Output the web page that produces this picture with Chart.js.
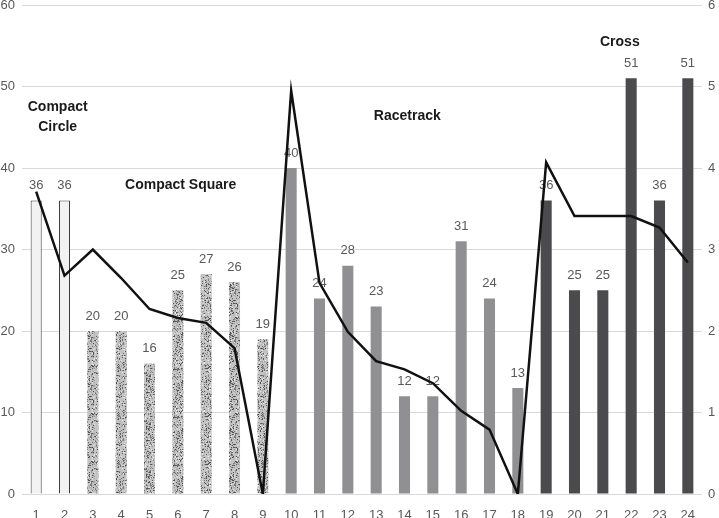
<!DOCTYPE html>
<html>
<head>
<meta charset="utf-8">
<script src="https://cdn.jsdelivr.net/npm/chart.js@4"></script>
<style>
  html, body { margin: 0; padding: 0; background: #fff; }
  #wrap { width: 719px; height: 518px; }
</style>
</head>
<body>
<div id="wrap"><canvas id="chart" width="719" height="518"></canvas></div>
<script>
// categories and values
const categories = ['1','2','3','4','5','6','7','8','9','10','11','12','13','14','15','16','17','18','19','20','21','22','23','24'];
const barValues = [36, 36, 20, 20, 16, 25, 27, 26, 19, 40, 24, 28, 23, 12, 12, 31, 24, 13, 36, 25, 25, 51, 36, 51];
const lineValues = [3.71, 2.68, 3.0, 2.65, 2.27, 2.16, 2.1, 1.79, 0, 4.95, 2.59, 1.99, 1.63, 1.53, 1.36, 1.02, 0.79, 0, 4.07, 3.41, 3.41, 3.41, 3.27, 2.84];
// group of each bar: circle, square, racetrack, cross
const barGroup = ['c','c','s','s','s','s','s','s','s','r','r','r','r','r','r','r','r','r','x','x','x','x','x','x'];
const leftTicks = [0, 10, 20, 30, 40, 50, 60];
const rightTicks = [0, 1, 2, 3, 4, 5, 6];
// group titles: text lines, category position, left-axis value
const groupTitles = [
  { lines: ['Compact', 'Circle'], at: 0.76, value: 47.5 },
  { lines: ['Compact Square'], at: 5.1, value: 37.9 },
  { lines: ['Racetrack'], at: 13.1, value: 46.4 },
  { lines: ['Cross'], at: 20.6, value: 55.4 }
];

// speckled fill for the compact square bars
function speckle() {
  const c = document.createElement('canvas');
  c.width = 48; c.height = 48;
  const g = c.getContext('2d');
  g.fillStyle = '#c2c2c2';
  g.fillRect(0, 0, 48, 48);
  let s = 12345;
  const next = () => { s = (s * 1103515245 + 12345) % 2147483648; return s / 2147483648; };
  for (let i = 0; i < 1400; i++) {
    const x = Math.floor(next() * 48), y = Math.floor(next() * 48);
    const v = Math.floor(70 + next() * 170);
    g.fillStyle = `rgb(${v},${v},${v})`;
    g.fillRect(x, y, 1, 1);
  }
  return g.createPattern(c, 'repeat');
}
const pattern = speckle();
const fillFor = { c: '#f2f2f2', s: pattern, r: '#909092', x: '#4b4b4d' };

const font = 'Liberation Sans, Arial, sans-serif';

const labelPlugin = {
  id: 'barLabels',
  beforeDatasetsDraw(chart) {
    const ctx = chart.ctx;
    const meta = chart.getDatasetMeta(1);
    ctx.save();
    ctx.font = `13px ${font}`;
    ctx.fillStyle = '#595959';
    ctx.textAlign = 'center';
    ctx.textBaseline = 'middle';
    meta.data.forEach((bar, i) => {
      ctx.fillText(String(barValues[i]), bar.x, bar.y - 15);
    });
    ctx.restore();
  },
  afterDatasetsDraw(chart) {
    const ctx = chart.ctx;
    const xs = chart.scales.x, ys = chart.scales.y;
    ctx.save();
    ctx.font = `bold 14px ${font}`;
    ctx.fillStyle = '#1a1a1a';
    ctx.textAlign = 'center';
    ctx.textBaseline = 'middle';
    groupTitles.forEach(t => {
      const px = xs.getPixelForValue(t.at);
      const py = ys.getPixelForValue(t.value);
      t.lines.forEach((line, k) => ctx.fillText(line, px, py + k * 20));
    });
    ctx.restore();
  }
};

new Chart(document.getElementById('chart'), {
  data: {
    labels: categories,
    datasets: [
      {
        type: 'line',
        data: lineValues,
        yAxisID: 'y1',
        borderColor: '#111111',
        borderWidth: 2.5,
        pointRadius: 0,
        tension: 0,
        order: 0
      },
      {
        type: 'bar',
        data: barValues,
        yAxisID: 'y',
        backgroundColor: barGroup.map(g => fillFor[g]),
        borderColor: barGroup.map(g => g === 'c' ? '#3a3a3a' : 'transparent'),
        borderWidth: barGroup.map(g => g === 'c' ? 1 : 0),
        categoryPercentage: 1,
        barPercentage: 0.39,
        order: 1
      }
    ]
  },
  options: {
    responsive: false,
    animation: false,
    layout: { padding: { top: 5, bottom: 0, left: 0, right: 0 } },
    plugins: { legend: { display: false }, tooltip: { enabled: false } },
    scales: {
      x: {
        offset: true,
        grid: { display: false },
        border: { display: false },
        ticks: { color: '#595959', font: { family: font, size: 13 }, padding: 6, maxRotation: 0, autoSkip: false },
        afterFit: s => { s.height = 24; }
      },
      y: {
        position: 'left',
        min: 0, max: 60,
        afterBuildTicks: s => { s.ticks = leftTicks.map(v => ({ value: v })); },
        grid: { color: '#d9d9d9', lineWidth: 1, drawTicks: false },
        border: { display: false },
        ticks: { color: '#595959', font: { family: font, size: 13 }, padding: 7 },
        afterFit: s => { s.width = 22; s.paddingTop = 0; }
      },
      y1: {
        position: 'right',
        min: 0, max: 6,
        afterBuildTicks: s => { s.ticks = rightTicks.map(v => ({ value: v })); },
        grid: { drawOnChartArea: false, drawTicks: false },
        border: { display: false },
        ticks: { color: '#595959', font: { family: font, size: 13 }, padding: 6 },
        afterFit: s => { s.width = 17; s.paddingTop = 0; }
      }
    }
  },
  plugins: [labelPlugin]
});
</script>
</body>
</html>
